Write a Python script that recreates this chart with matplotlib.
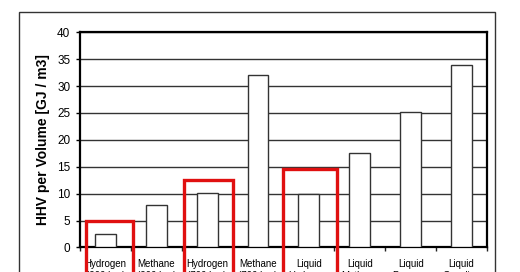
import matplotlib
matplotlib.use("Agg")
import matplotlib.pyplot as plt
from matplotlib.patches import Rectangle
import numpy as np

plt.rcParams['font.family'] = ['Liberation Sans', 'DejaVu Sans']

# categories (second line is cut off in the reference)
categorias = ["Hydrogen\n(200 bar)", "Methane\n(200 bar)", "Hydrogen\n(700 bar)",
              "Methane\n(700 bar)", "Liquid\nHydrogen", "Liquid\nMethane",
              "Liquid\nPropane", "Liquid\nGasoline"]
hhv = [2.55, 7.9, 10.2, 32.0, 9.9, 17.6, 25.2, 33.9]

# red highlight boxes (x span in category units, top in GJ/m3)
destaque_esq = [-0.38, 1.55, 3.50]
destaque_dir = [0.55, 2.50, 4.55]
destaque_topo = [5.0, 12.6, 14.6]

fig = plt.figure(figsize=(5.2, 2.72), dpi=100)
ax = fig.add_axes([0.1538, 0.0901, 0.7827, 0.7912])

x = np.arange(len(categorias))
ax.bar(x, hhv, width=0.41, color='white', edgecolor='#333333', linewidth=1.0, zorder=3)

ax.set_ylim(0, 40)
ax.set_xlim(-0.5, len(categorias) - 0.5)
ax.set_yticks(np.arange(0, 41, 5))
ax.yaxis.grid(True, color='#333333', linewidth=1.0, zorder=0)
ax.set_axisbelow(True)

ax.set_xticks(x)
ax.set_xticklabels(categorias, fontsize=7, linespacing=1.25, va='top')
ax.set_xticks(np.arange(-0.5, len(categorias), 1), minor=True)
ax.tick_params(axis='x', which='major', length=0, pad=8.5)
ax.tick_params(axis='x', which='minor', length=3, width=1, color='#222222')
ax.tick_params(axis='y', length=3, width=1, labelsize=8.5, pad=4)
ax.set_ylabel('HHV per Volume [GJ / m3]', fontsize=10, fontweight='bold', labelpad=5)

for s in ax.spines.values():
    s.set_linewidth(1.6)
    s.set_color('black')

# caixas vermelhas de destaque
for e, d, t in zip(destaque_esq, destaque_dir, destaque_topo):
    r = Rectangle((e, -20), d - e, t + 20, fill=False, edgecolor='#e01010',
                  linewidth=2.4, clip_on=False, zorder=5)
    ax.add_patch(r)

# moldura externa
fig.patches.append(Rectangle((19 / 520, -0.1), 476 / 520, 1.1 - 12 / 272, fill=False,
                             edgecolor='#333333', linewidth=1.0,
                             transform=fig.transFigure, figure=fig))

fig.savefig('out.png', dpi=100)
